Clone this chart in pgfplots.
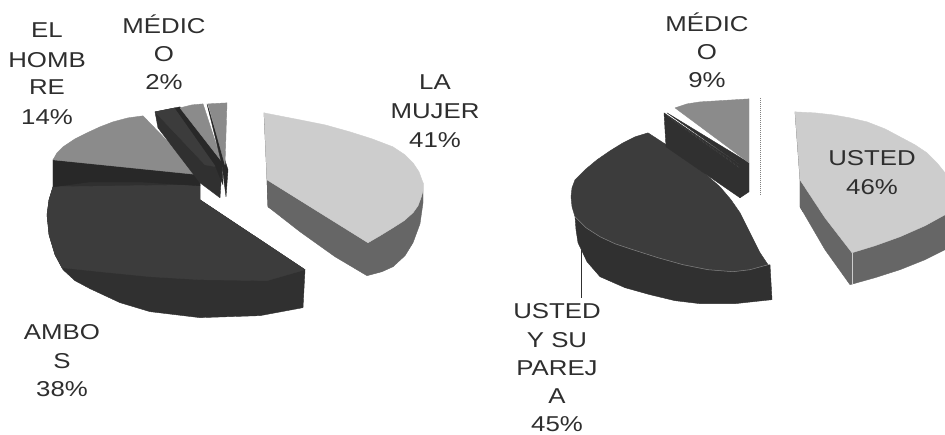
\documentclass[border=0pt]{standalone}
\usepackage{pgfplots}
\pgfplotsset{compat=1.18}
\usepackage{fontspec}
\setmainfont{Liberation Sans}[FakeStretch=1.2]
\definecolor{lighttop}{HTML}{CDCDCD}
\definecolor{lightside}{HTML}{666666}
\definecolor{lightwall}{HTML}{4A4A4A}
\definecolor{midtop}{HTML}{8B8B8B}
\definecolor{darktop}{HTML}{3C3C3C}
\definecolor{darkside}{HTML}{303030}
\definecolor{darkest}{HTML}{282828}
\definecolor{txt}{HTML}{2E2E2E}
\pgfplotsset{
  face/.style={draw=#1,fill=#1,line width=0.3pt,line join=round,no markers,forget plot},
}
\newcommand{\lbl}[3]{\node[text=txt,font=\fontsize{16.2}{17}\selectfont,inner sep=0pt] at (axis cs:#1,#2) {#3};}
\begin{document}
\begin{tikzpicture}
\path (0,0) rectangle (709bp,326bp);
\begin{axis}[
  scale only axis,width=709bp,height=326bp,
  xmin=0,xmax=945,ymin=0,ymax=435,y dir=reverse,
  axis lines=none,clip=true,
]
% left pie: la mujer
\addplot[face=lightwall] coordinates {(264,113)(267,180)(268,207)(271,209)(269,170)} -- cycle;
\addplot[face=lightside] coordinates {(267,180)(268,207)(300,232)(335,257)(367,276)(382,272)(393,267)(405,256)(413,243)(420,224)(423,203)(423,183)(368,243)} -- cycle;
\addplot[face=lighttop] coordinates {(264,113)(300,120)(325,125)(350,132)(372,139)(393,147)(405,155)(413,163)(419,172)(423,183)(423,191)(421,198)(418,206)(413,213)(404,221)(393,228)(380,236)(368,243)(267,180)} -- cycle;
% left pie: ambos
\addplot[face=darkside] coordinates {(53,160)(53,187)(49,200)(47,215)(49,235)(55,255)(63,270)(75,281)(90,289)(120,303)(150,312)(200,318)(260,316)(303,308)(305,270)(200,200)(200,175)} -- cycle;
\addplot[face=darktop] coordinates {(53,187)(49,200)(47,215)(49,235)(55,255)(62,268)(100,272)(150,277)(200,280)(267,281)(305,270)(200,200)(200,185)} -- cycle;
\addplot[face=darkest] coordinates {(53,160)(200,175)(200,186)(140,182)(90,182)(53,187)} -- cycle;
% left pie: el hombre
\addplot[face=midtop] coordinates {(53,160)(57,153)(63,147)(75,139)(87,133)(100,127)(113,122)(128,118)(143,116)(200,175)} -- cycle;
% left pie: medico wedges
\addplot[face=darkside] coordinates {(155,112)(158,128)(200,183)(220,198)(222,168)(175,108)} -- cycle;
\addplot[face=darktop] coordinates {(155,112)(175,108)(222,168)(205,165)} -- cycle;
\addplot[face=darkest] coordinates {(175,108)(180,107)(222,162)(223,185)(215,165)} -- cycle;
\addplot[face=midtop] coordinates {(180,108)(192,105)(203,104)(222,162)} -- cycle;
\addplot[face=darkest] coordinates {(207,104)(222,165)(226,197)(228,170)} -- cycle;
\addplot[face=midtop] coordinates {(208,104)(227,103)(225,165)} -- cycle;
% right pie: usted
\addplot[face=lightwall] coordinates {(795,112)(800,180)(800,207)(803,212)(799,160)} -- cycle;
\addplot[face=lightside] coordinates {(800,180)(800,207)(825,250)(850,285)(875,278)(900,270)(925,260)(945,250)(945,215)(900,237)(852,253)} -- cycle;
\addplot[face=lighttop] coordinates {(795,112)(815,113)(833,115)(850,118)(867,122)(885,129)(900,137)(915,145)(927,153)(937,163)(945,173)(945,215)(925,226)(900,237)(875,246)(852,253)(825,218)(800,180)} -- cycle;
\addplot[draw=lighttop,line width=0.6pt,forget plot] coordinates {(852,253)(852,284)};
% right pie: usted y su pareja
\addplot[face=darkside] coordinates {(575,217)(576,230)(578,243)(587,262)(600,277)(625,288)(650,295)(675,301)(700,304)(735,304)(772,300)(770,265)(733,272)(683,265)(633,250)(600,237)} -- cycle;
\addplot[face=darktop] coordinates {(648,133)(668,146)(687,160)(704,173)(720,187)(731,200)(740,213)(750,233)(760,253)(768,265)(750,270)(733,272)(708,270)(683,265)(658,258)(633,250)(615,244)(600,237)(586,228)(575,217)(572,207)(571,197)(572,188)(575,180)(585,170)(597,160)(610,151)(623,143)(635,137)} -- cycle;
\addplot[draw=gray,line width=0.4pt,forget plot] coordinates {(575,217)(586,228)(600,237)(615,244)(633,250)(658,258)(683,265)(708,270)(733,272)(750,270)(768,265)};
\addplot[draw=darkside,line width=0.8pt,forget plot] coordinates {(581.7,250)(581.7,298)};
% right pie: medico
\addplot[face=darkside] coordinates {(664,113)(666,147)(740,198)(740,165)} -- cycle;
\addplot[face=darkside] coordinates {(667,113)(740,165)(740,198)(749,192)(749,163)} -- cycle;
\addplot[draw=gray,line width=0.3pt,densely dotted,forget plot] coordinates {(667,116)(740,168)};
\addplot[face=midtop] coordinates {(675,108)(687,104)(700,102)(749,99)(749,163)} -- cycle;
\addplot[draw=gray,line width=0.5pt,densely dotted,forget plot] coordinates {(760,98)(760,195)};
% labels
\lbl{47}{30}{EL}
\lbl{47}{60}{HOMB}
\lbl{47}{87}{RE}
\lbl{47}{117}{14\%}
\lbl{164}{24}{MÉDIC}
\lbl{164}{54}{O}
\lbl{164}{82}{2\%}
\lbl{435}{82}{LA}
\lbl{435}{111}{MUJER}
\lbl{435}{140}{41\%}
\lbl{62}{332}{AMBO}
\lbl{62}{361}{S}
\lbl{62}{390}{38\%}
\lbl{707}{22}{MÉDIC}
\lbl{707}{52}{O}
\lbl{707}{80}{9\%}
\lbl{872}{158}{USTED}
\lbl{872}{187}{46\%}
\lbl{557}{311}{USTED}
\lbl{557}{340}{Y SU}
\lbl{557}{369}{PAREJ}
\lbl{557}{397}{A}
\lbl{557}{425}{45\%}
\end{axis}
\end{tikzpicture}
\end{document}
